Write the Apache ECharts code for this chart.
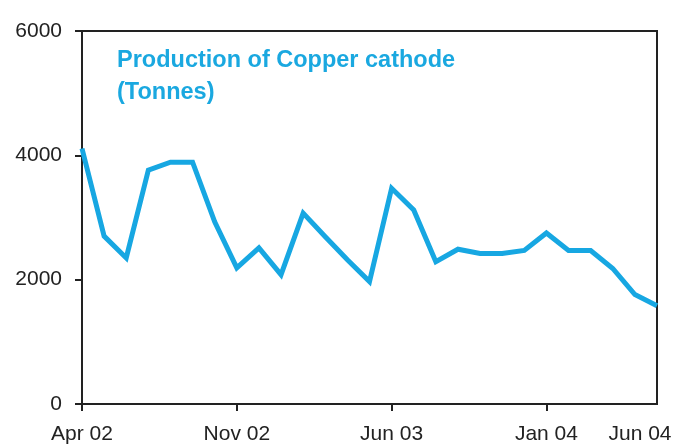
<!DOCTYPE html>
<html>
<head>
<meta charset="utf-8">
<script src="https://cdn.jsdelivr.net/npm/echarts@6/dist/echarts.min.js"></script>
<style>html,body{margin:0;padding:0;background:#fff}#c{width:677px;height:445px}</style>
</head>
<body>
<div id="c"></div>
<script>
const months = ['Apr 02','May 02','Jun 02','Jul 02','Aug 02','Sep 02','Oct 02','Nov 02','Dec 02',
  'Jan 03','Feb 03','Mar 03','Apr 03','May 03','Jun 03','Jul 03','Aug 03','Sep 03','Oct 03','Nov 03','Dec 03',
  'Jan 04','Feb 04','Mar 04','Apr 04','May 04','Jun 04'];
const production = [4110,2700,2350,3760,3890,3890,2930,2190,2510,2080,3070,2690,2320,1970,3470,3120,
  2290,2490,2420,2420,2470,2750,2470,2470,2180,1760,1580];
const shownLabels = ['Apr 02','Nov 02','Jun 03','Jan 04','Jun 04'];
const yTicks = [0,2000,4000,6000];
const titleText = 'Production of Copper cathode\n(Tonnes)';

const FONT = 'Liberation Sans, Arial, sans-serif';
const chart = echarts.init(document.getElementById('c'));
const lastIdx = months.length - 1;
chart.setOption({
  animation: false,
  title: {
    text: titleText,
    left: 112, top: 40,
    textStyle: {color:'#1aa8e0', fontSize:23.5, fontWeight:'bold', fontFamily:FONT, lineHeight:32}
  },
  grid: {left:82, right:20, top:31, bottom:40, show:true, borderColor:'#222', borderWidth:2, backgroundColor:'transparent'},
  xAxis: {
    type:'category', data: months, boundaryGap:false,
    axisLine:{lineStyle:{color:'#222', width:2}},
    axisTick:{show:true, length:7, lineStyle:{color:'#222', width:2},
      interval:(i,v)=> shownLabels.includes(v) && i !== lastIdx},
    axisLabel:{
      interval:(i,v)=> shownLabels.includes(v),
      color:'#222', fontSize:21, fontFamily:FONT, margin:20,
      formatter:(v,i)=> i === lastIdx ? '{r|'+v+'}' : v,
      rich:{r:{fontSize:21, color:'#222', fontFamily:FONT, padding:[0,34,0,0]}}
    },
    splitLine:{show:false}
  },
  yAxis: {
    type:'value', min:yTicks[0], max:yTicks[yTicks.length-1], interval:2000,
    axisLine:{show:true, lineStyle:{color:'#222', width:2}},
    axisTick:{show:true, length:7, lineStyle:{color:'#222', width:2}},
    axisLabel:{color:'#222', fontSize:21, fontFamily:FONT, margin:20, formatter:(v)=> String(v)},
    splitLine:{show:false}
  },
  series: [{
    type:'line', data: production, symbol:'none',
    lineStyle:{color:'#17a7e2', width:5, join:'miter'},
    itemStyle:{color:'#17a7e2'}
  }]
});
</script>
</body>
</html>
